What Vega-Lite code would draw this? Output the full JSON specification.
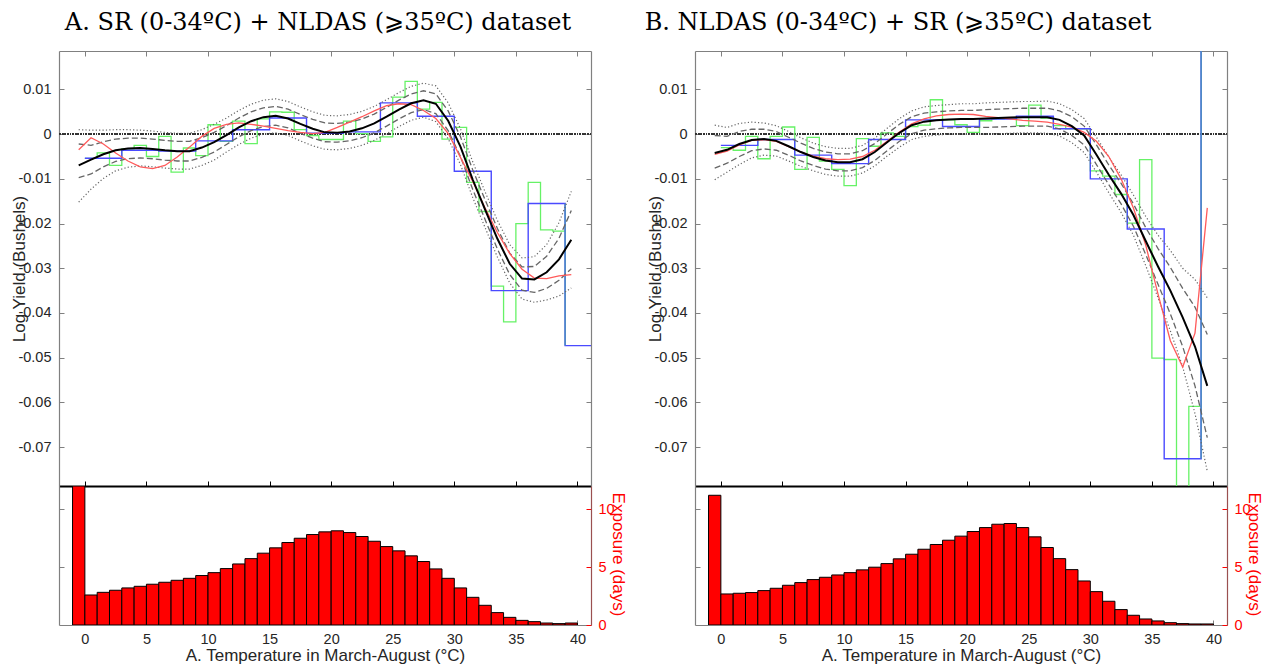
{
"$schema": "https://vega.github.io/schema/vega-lite/v6.json",
"background": "white",
"padding": {"left": 10, "top": 10, "right": 5, "bottom": 2},
"config": {
  "view": {"stroke": null},
  "font": "Liberation Sans",
  "locale": {"number": {"decimal": ".", "thousands": ",", "grouping": [3], "currency": ["$", ""], "minus": "-"}},
  "axis": {"grid": false, "labelFontSize": 14.5, "labelColor": "#262626", "domainColor": "#808080", "tickColor": "#808080", "titleFontWeight": "normal", "titleColor": "#262626", "labelFont": "Liberation Sans", "titleFont": "Liberation Sans"},
  "title": {"font": "DejaVu Serif", "fontSize": 24, "fontWeight": "normal", "anchor": "middle", "offset": 16, "color": "black"}
},
"datasets": {
  "cA": [
    {"x":-0.5,"b":-0.0070,"r":-0.0035,"lo1":-0.0097,"hi1":-0.0022,"lo2":-0.0152,"hi2":0.0010},
    {"x":0.5,"b":-0.0057,"r":-0.0008,"lo1":-0.0089,"hi1":-0.0025,"lo2":-0.0123,"hi2":0.0009},
    {"x":1.5,"b":-0.0045,"r":-0.0022,"lo1":-0.0073,"hi1":-0.0017,"lo2":-0.0099,"hi2":0.0009},
    {"x":2.5,"b":-0.0036,"r":-0.0042,"lo1":-0.0061,"hi1":-0.0011,"lo2":-0.0082,"hi2":0.0010},
    {"x":3.5,"b":-0.0032,"r":-0.0060,"lo1":-0.0055,"hi1":-0.0009,"lo2":-0.0074,"hi2":0.0010},
    {"x":4.5,"b":-0.0031,"r":-0.0073,"lo1":-0.0053,"hi1":-0.0009,"lo2":-0.0071,"hi2":0.0009},
    {"x":5.5,"b":-0.0033,"r":-0.0077,"lo1":-0.0055,"hi1":-0.0011,"lo2":-0.0073,"hi2":0.0007},
    {"x":6.5,"b":-0.0036,"r":-0.0070,"lo1":-0.0058,"hi1":-0.0014,"lo2":-0.0076,"hi2":0.0004},
    {"x":7.5,"b":-0.0038,"r":-0.0051,"lo1":-0.0060,"hi1":-0.0016,"lo2":-0.0078,"hi2":0.0002},
    {"x":8.5,"b":-0.0038,"r":-0.0029,"lo1":-0.0060,"hi1":-0.0016,"lo2":-0.0078,"hi2":0.0002},
    {"x":9.5,"b":-0.0030,"r":-0.0005,"lo1":-0.0052,"hi1":-0.0008,"lo2":-0.0070,"hi2":0.0010},
    {"x":10.5,"b":-0.0018,"r":0.0013,"lo1":-0.0040,"hi1":0.0004,"lo2":-0.0058,"hi2":0.0022},
    {"x":11.5,"b":-0.0002,"r":0.0022,"lo1":-0.0023,"hi1":0.0019,"lo2":-0.0040,"hi2":0.0036},
    {"x":12.5,"b":0.0015,"r":0.0025,"lo1":-0.0006,"hi1":0.0036,"lo2":-0.0023,"hi2":0.0053},
    {"x":13.5,"b":0.0029,"r":0.0022,"lo1":0.0008,"hi1":0.0050,"lo2":-0.0009,"hi2":0.0067},
    {"x":14.5,"b":0.0038,"r":0.0018,"lo1":0.0017,"hi1":0.0059,"lo2":0.0000,"hi2":0.0076},
    {"x":15.5,"b":0.0041,"r":0.0013,"lo1":0.0020,"hi1":0.0062,"lo2":0.0003,"hi2":0.0079},
    {"x":16.5,"b":0.0035,"r":0.0008,"lo1":0.0014,"hi1":0.0056,"lo2":-0.0003,"hi2":0.0073},
    {"x":17.5,"b":0.0023,"r":0.0004,"lo1":0.0002,"hi1":0.0044,"lo2":-0.0015,"hi2":0.0061},
    {"x":18.5,"b":0.0012,"r":0.0001,"lo1":-0.0009,"hi1":0.0033,"lo2":-0.0026,"hi2":0.0050},
    {"x":19.5,"b":0.0004,"r":0.0004,"lo1":-0.0017,"hi1":0.0025,"lo2":-0.0034,"hi2":0.0042},
    {"x":20.5,"b":0.0003,"r":0.0015,"lo1":-0.0018,"hi1":0.0024,"lo2":-0.0035,"hi2":0.0041},
    {"x":21.5,"b":0.0006,"r":0.0027,"lo1":-0.0015,"hi1":0.0027,"lo2":-0.0032,"hi2":0.0044},
    {"x":22.5,"b":0.0013,"r":0.0039,"lo1":-0.0008,"hi1":0.0034,"lo2":-0.0025,"hi2":0.0051},
    {"x":23.5,"b":0.0024,"r":0.0052,"lo1":0.0003,"hi1":0.0045,"lo2":-0.0014,"hi2":0.0062},
    {"x":24.5,"b":0.0039,"r":0.0064,"lo1":0.0018,"hi1":0.0060,"lo2":0.0001,"hi2":0.0077},
    {"x":25.5,"b":0.0055,"r":0.0068,"lo1":0.0034,"hi1":0.0076,"lo2":0.0017,"hi2":0.0093},
    {"x":26.5,"b":0.0069,"r":0.0066,"lo1":0.0048,"hi1":0.0090,"lo2":0.0031,"hi2":0.0107},
    {"x":27.5,"b":0.0076,"r":0.0053,"lo1":0.0055,"hi1":0.0097,"lo2":0.0038,"hi2":0.0114},
    {"x":28.5,"b":0.0068,"r":0.0035,"lo1":0.0046,"hi1":0.0090,"lo2":0.0028,"hi2":0.0108},
    {"x":29.5,"b":0.0030,"r":0.0002,"lo1":0.0008,"hi1":0.0052,"lo2":-0.0010,"hi2":0.0070},
    {"x":30.5,"b":-0.0028,"r":-0.0052,"lo1":-0.0050,"hi1":-0.0006,"lo2":-0.0068,"hi2":0.0012},
    {"x":31.5,"b":-0.0102,"r":-0.0106,"lo1":-0.0124,"hi1":-0.0080,"lo2":-0.0142,"hi2":-0.0062},
    {"x":32.5,"b":-0.0169,"r":-0.0165,"lo1":-0.0191,"hi1":-0.0147,"lo2":-0.0209,"hi2":-0.0129},
    {"x":33.5,"b":-0.0234,"r":-0.0220,"lo1":-0.0257,"hi1":-0.0211,"lo2":-0.0275,"hi2":-0.0193},
    {"x":34.5,"b":-0.0290,"r":-0.0267,"lo1":-0.0314,"hi1":-0.0266,"lo2":-0.0333,"hi2":-0.0247},
    {"x":35.5,"b":-0.0323,"r":-0.0302,"lo1":-0.0349,"hi1":-0.0297,"lo2":-0.0369,"hi2":-0.0277},
    {"x":36.5,"b":-0.0325,"r":-0.0322,"lo1":-0.0354,"hi1":-0.0296,"lo2":-0.0376,"hi2":-0.0274},
    {"x":37.5,"b":-0.0309,"r":-0.0323,"lo1":-0.0345,"hi1":-0.0273,"lo2":-0.0371,"hi2":-0.0247},
    {"x":38.5,"b":-0.0280,"r":-0.0317,"lo1":-0.0327,"hi1":-0.0233,"lo2":-0.0362,"hi2":-0.0198},
    {"x":39.5,"b":-0.0236,"r":-0.0314,"lo1":-0.0301,"hi1":-0.0171,"lo2":-0.0344,"hi2":-0.0128}
  ],
  "cB": [
    {"x":-0.5,"b":-0.0042,"r":-0.0045,"lo1":-0.0076,"hi1":-0.0003,"lo2":-0.0102,"hi2":0.0020},
    {"x":0.5,"b":-0.0035,"r":-0.0038,"lo1":-0.0065,"hi1":-0.0005,"lo2":-0.0085,"hi2":0.0015},
    {"x":1.5,"b":-0.0022,"r":-0.0024,"lo1":-0.0050,"hi1":0.0006,"lo2":-0.0068,"hi2":0.0024},
    {"x":2.5,"b":-0.0013,"r":-0.0014,"lo1":-0.0037,"hi1":0.0011,"lo2":-0.0053,"hi2":0.0027},
    {"x":3.5,"b":-0.0011,"r":-0.0012,"lo1":-0.0033,"hi1":0.0011,"lo2":-0.0047,"hi2":0.0025},
    {"x":4.5,"b":-0.0015,"r":-0.0016,"lo1":-0.0036,"hi1":0.0006,"lo2":-0.0049,"hi2":0.0019},
    {"x":5.5,"b":-0.0027,"r":-0.0028,"lo1":-0.0047,"hi1":-0.0007,"lo2":-0.0060,"hi2":0.0006},
    {"x":6.5,"b":-0.0040,"r":-0.0040,"lo1":-0.0060,"hi1":-0.0020,"lo2":-0.0072,"hi2":-0.0008},
    {"x":7.5,"b":-0.0051,"r":-0.0049,"lo1":-0.0070,"hi1":-0.0032,"lo2":-0.0082,"hi2":-0.0020},
    {"x":8.5,"b":-0.0059,"r":-0.0055,"lo1":-0.0078,"hi1":-0.0040,"lo2":-0.0090,"hi2":-0.0028},
    {"x":9.5,"b":-0.0063,"r":-0.0057,"lo1":-0.0082,"hi1":-0.0044,"lo2":-0.0094,"hi2":-0.0032},
    {"x":10.5,"b":-0.0063,"r":-0.0056,"lo1":-0.0082,"hi1":-0.0044,"lo2":-0.0094,"hi2":-0.0032},
    {"x":11.5,"b":-0.0056,"r":-0.0050,"lo1":-0.0075,"hi1":-0.0037,"lo2":-0.0087,"hi2":-0.0025},
    {"x":12.5,"b":-0.0040,"r":-0.0036,"lo1":-0.0059,"hi1":-0.0021,"lo2":-0.0071,"hi2":-0.0009},
    {"x":13.5,"b":-0.0018,"r":-0.0016,"lo1":-0.0037,"hi1":0.0001,"lo2":-0.0049,"hi2":0.0013},
    {"x":14.5,"b":0.0003,"r":0.0005,"lo1":-0.0016,"hi1":0.0022,"lo2":-0.0029,"hi2":0.0035},
    {"x":15.5,"b":0.0020,"r":0.0023,"lo1":0.0001,"hi1":0.0039,"lo2":-0.0012,"hi2":0.0052},
    {"x":16.5,"b":0.0028,"r":0.0034,"lo1":0.0009,"hi1":0.0047,"lo2":-0.0005,"hi2":0.0061},
    {"x":17.5,"b":0.0031,"r":0.0041,"lo1":0.0012,"hi1":0.0050,"lo2":-0.0002,"hi2":0.0064},
    {"x":18.5,"b":0.0033,"r":0.0044,"lo1":0.0014,"hi1":0.0052,"lo2":0.0000,"hi2":0.0066},
    {"x":19.5,"b":0.0034,"r":0.0045,"lo1":0.0015,"hi1":0.0053,"lo2":0.0000,"hi2":0.0068},
    {"x":20.5,"b":0.0034,"r":0.0044,"lo1":0.0015,"hi1":0.0053,"lo2":0.0000,"hi2":0.0068},
    {"x":21.5,"b":0.0035,"r":0.0040,"lo1":0.0015,"hi1":0.0055,"lo2":0.0000,"hi2":0.0070},
    {"x":22.5,"b":0.0036,"r":0.0037,"lo1":0.0016,"hi1":0.0056,"lo2":0.0001,"hi2":0.0071},
    {"x":23.5,"b":0.0037,"r":0.0034,"lo1":0.0017,"hi1":0.0057,"lo2":0.0002,"hi2":0.0072},
    {"x":24.5,"b":0.0038,"r":0.0031,"lo1":0.0018,"hi1":0.0058,"lo2":0.0003,"hi2":0.0073},
    {"x":25.5,"b":0.0038,"r":0.0029,"lo1":0.0018,"hi1":0.0058,"lo2":0.0003,"hi2":0.0073},
    {"x":26.5,"b":0.0038,"r":0.0027,"lo1":0.0018,"hi1":0.0058,"lo2":0.0002,"hi2":0.0074},
    {"x":27.5,"b":0.0032,"r":0.0022,"lo1":0.0012,"hi1":0.0052,"lo2":-0.0004,"hi2":0.0068},
    {"x":28.5,"b":0.0018,"r":0.0016,"lo1":-0.0003,"hi1":0.0039,"lo2":-0.0019,"hi2":0.0055},
    {"x":29.5,"b":-0.0003,"r":0.0004,"lo1":-0.0024,"hi1":0.0018,"lo2":-0.0041,"hi2":0.0035},
    {"x":30.5,"b":-0.0046,"r":-0.0016,"lo1":-0.0068,"hi1":-0.0024,"lo2":-0.0085,"hi2":-0.0007},
    {"x":31.5,"b":-0.0091,"r":-0.0050,"lo1":-0.0113,"hi1":-0.0069,"lo2":-0.0131,"hi2":-0.0051},
    {"x":32.5,"b":-0.0133,"r":-0.0100,"lo1":-0.0156,"hi1":-0.0110,"lo2":-0.0175,"hi2":-0.0091},
    {"x":33.5,"b":-0.0181,"r":-0.0165,"lo1":-0.0206,"hi1":-0.0156,"lo2":-0.0226,"hi2":-0.0136},
    {"x":34.5,"b":-0.0239,"r":-0.0248,"lo1":-0.0269,"hi1":-0.0209,"lo2":-0.0294,"hi2":-0.0184},
    {"x":35.5,"b":-0.0296,"r":-0.0358,"lo1":-0.0336,"hi1":-0.0256,"lo2":-0.0366,"hi2":-0.0226},
    {"x":36.5,"b":-0.0350,"r":-0.0462,"lo1":-0.0402,"hi1":-0.0298,"lo2":-0.0440,"hi2":-0.0260},
    {"x":37.5,"b":-0.0410,"r":-0.0521,"lo1":-0.0475,"hi1":-0.0345,"lo2":-0.0520,"hi2":-0.0300},
    {"x":38.5,"b":-0.0475,"r":-0.0445,"lo1":-0.0563,"hi1":-0.0387,"lo2":-0.0625,"hi2":-0.0325},
    {"x":39.5,"b":-0.0563,"r":-0.0165,"lo1":-0.0679,"hi1":-0.0448,"lo2":-0.0754,"hi2":-0.0366}
  ],
  "bA": [
    {"x":0,"v":-0.0054},{"x":3,"v":-0.0036},{"x":6,"v":-0.0038},{"x":9,"v":-0.0015},{"x":12,"v":0.0010},
    {"x":15,"v":0.0036},{"x":18,"v":0.0002},{"x":21,"v":0.0005},{"x":24,"v":0.0070},{"x":27,"v":0.0040},
    {"x":30,"v":-0.0083},{"x":33,"v":-0.0350},{"x":36,"v":-0.0155},{"x":39,"v":-0.0473},{"x":41.1,"v":-0.0473}
  ],
  "bB": [
    {"x":0,"v":-0.0025},{"x":3,"v":-0.0012},{"x":6,"v":-0.0047},{"x":9,"v":-0.0066},{"x":12,"v":-0.0012},
    {"x":15,"v":0.0032},{"x":18,"v":0.0017},{"x":21,"v":0.0034},{"x":24,"v":0.0040},{"x":27,"v":0.0012},
    {"x":30,"v":-0.0100},{"x":33,"v":-0.0212},{"x":36,"v":-0.0726},{"x":39,"v":0.05},{"x":41.1,"v":0.05}
  ],
  "gA": [
    {"x":0,"v":-0.0054},{"x":1,"v":-0.0042},{"x":2,"v":-0.0070},{"x":3,"v":-0.0033},{"x":4,"v":-0.0025},
    {"x":5,"v":-0.0050},{"x":6,"v":-0.0005},{"x":7,"v":-0.0085},{"x":8,"v":-0.0031},{"x":9,"v":-0.0048},
    {"x":10,"v":0.0021},{"x":11,"v":-0.0016},{"x":12,"v":0.0029},{"x":13,"v":-0.0021},{"x":14,"v":0.0034},
    {"x":15,"v":0.0050},{"x":16,"v":0.0049},{"x":17,"v":0.0010},{"x":18,"v":-0.0003},{"x":19,"v":-0.0012},
    {"x":20,"v":-0.0012},{"x":21,"v":0.0029},{"x":22,"v":0.0001},{"x":23,"v":-0.0016},{"x":24,"v":-0.0006},
    {"x":25,"v":0.0083},{"x":26,"v":0.0118},{"x":27,"v":0.0056},{"x":28,"v":0.0071},{"x":29,"v":-0.0011},
    {"x":30,"v":0.0015},{"x":31,"v":-0.0108},{"x":32,"v":-0.0173},{"x":33,"v":-0.0340},{"x":34,"v":-0.0420},
    {"x":35,"v":-0.0200},{"x":36,"v":-0.0108},{"x":37,"v":-0.0214},{"x":38,"v":-0.0217},{"x":39,"v":-0.0217}
  ],
  "gB": [
    {"x":0,"v":-0.0030},{"x":1,"v":-0.0036},{"x":2,"v":-0.0005},{"x":3,"v":-0.0055},{"x":4,"v":-0.0005},
    {"x":5,"v":0.0016},{"x":6,"v":-0.0079},{"x":7,"v":-0.0007},{"x":8,"v":-0.0060},{"x":9,"v":-0.0079},
    {"x":10,"v":-0.0115},{"x":11,"v":-0.0010},{"x":12,"v":-0.0027},{"x":13,"v":0.0003},{"x":14,"v":-0.0005},
    {"x":15,"v":0.0017},{"x":16,"v":0.0020},{"x":17,"v":0.0077},{"x":18,"v":0.0032},{"x":19,"v":0.0021},
    {"x":20,"v":0.0004},{"x":21,"v":0.0030},{"x":22,"v":0.0034},{"x":23,"v":0.0036},{"x":24,"v":0.0019},
    {"x":25,"v":0.0065},{"x":26,"v":0.0036},{"x":27,"v":0.0019},{"x":28,"v":0.0012},{"x":29,"v":0.0012},
    {"x":30,"v":-0.0082},{"x":31,"v":-0.0094},{"x":32,"v":-0.0135},{"x":33,"v":-0.0199},{"x":34,"v":-0.0057},
    {"x":35,"v":-0.0501},{"x":36,"v":-0.0504},{"x":37,"v":-0.0950},{"x":38,"v":-0.0609},{"x":39,"v":-0.0609}
  ],
  "vA": [{"x":39,"y":-0.0155,"y2":-0.0473}],
  "vB": [{"x":39,"y":-0.0726,"y2":0.03}],
  "hA": [
    {"x0":-1,"x1":0,"d":12},{"x0":0,"x1":1,"d":2.59},{"x0":1,"x1":2,"d":2.82},{"x0":2,"x1":3,"d":3.0},{"x0":3,"x1":4,"d":3.2},
    {"x0":4,"x1":5,"d":3.34},{"x0":5,"x1":6,"d":3.52},{"x0":6,"x1":7,"d":3.69},{"x0":7,"x1":8,"d":3.86},{"x0":8,"x1":9,"d":4.03},
    {"x0":9,"x1":10,"d":4.27},{"x0":10,"x1":11,"d":4.52},{"x0":11,"x1":12,"d":4.87},{"x0":12,"x1":13,"d":5.27},{"x0":13,"x1":14,"d":5.73},
    {"x0":14,"x1":15,"d":6.2},{"x0":15,"x1":16,"d":6.66},{"x0":16,"x1":17,"d":7.12},{"x0":17,"x1":18,"d":7.49},{"x0":18,"x1":19,"d":7.81},
    {"x0":19,"x1":20,"d":8.04},{"x0":20,"x1":21,"d":8.13},{"x0":21,"x1":22,"d":7.98},{"x0":22,"x1":23,"d":7.64},{"x0":23,"x1":24,"d":7.23},
    {"x0":24,"x1":25,"d":6.77},{"x0":25,"x1":26,"d":6.4},{"x0":26,"x1":27,"d":5.97},{"x0":27,"x1":28,"d":5.48},{"x0":28,"x1":29,"d":4.84},
    {"x0":29,"x1":30,"d":4.03},{"x0":30,"x1":31,"d":3.2},{"x0":31,"x1":32,"d":2.39},{"x0":32,"x1":33,"d":1.7},{"x0":33,"x1":34,"d":1.07},
    {"x0":34,"x1":35,"d":0.66},{"x0":35,"x1":36,"d":0.4},{"x0":36,"x1":37,"d":0.29},{"x0":37,"x1":38,"d":0.17},{"x0":38,"x1":39,"d":0.12},
    {"x0":39,"x1":40,"d":0.17}
  ],
  "hB": [
    {"x0":-1,"x1":0,"d":11.2},{"x0":0,"x1":1,"d":2.68},{"x0":1,"x1":2,"d":2.74},{"x0":2,"x1":3,"d":2.8},{"x0":3,"x1":4,"d":2.97},
    {"x0":4,"x1":5,"d":3.17},{"x0":5,"x1":6,"d":3.43},{"x0":6,"x1":7,"d":3.66},{"x0":7,"x1":8,"d":3.92},{"x0":8,"x1":9,"d":4.12},
    {"x0":9,"x1":10,"d":4.32},{"x0":10,"x1":11,"d":4.52},{"x0":11,"x1":12,"d":4.76},{"x0":12,"x1":13,"d":4.99},{"x0":13,"x1":14,"d":5.3},
    {"x0":14,"x1":15,"d":5.71},{"x0":15,"x1":16,"d":6.11},{"x0":16,"x1":17,"d":6.54},{"x0":17,"x1":18,"d":6.95},{"x0":18,"x1":19,"d":7.32},
    {"x0":19,"x1":20,"d":7.67},{"x0":20,"x1":21,"d":8.07},{"x0":21,"x1":22,"d":8.41},{"x0":22,"x1":23,"d":8.7},{"x0":23,"x1":24,"d":8.76},
    {"x0":24,"x1":25,"d":8.41},{"x0":25,"x1":26,"d":7.61},{"x0":26,"x1":27,"d":6.69},{"x0":27,"x1":28,"d":5.73},{"x0":28,"x1":29,"d":4.78},
    {"x0":29,"x1":30,"d":3.8},{"x0":30,"x1":31,"d":2.88},{"x0":31,"x1":32,"d":2.05},{"x0":32,"x1":33,"d":1.33},{"x0":33,"x1":34,"d":0.84},
    {"x0":34,"x1":35,"d":0.52},{"x0":35,"x1":36,"d":0.35},{"x0":36,"x1":37,"d":0.2},{"x0":37,"x1":38,"d":0.12},{"x0":38,"x1":39,"d":0.09},
    {"x0":39,"x1":40,"d":0.09}
  ]
},
"spacing": 18,
"hconcat": [
  {
    "title": "A. SR (0-34ºC) + NLDAS (⩾35ºC) dataset",
    "bounds": "flush",
    "spacing": 0,
    "vconcat": [
      {
        "width": 532, "height": 435,
        "resolve": {"axis": {"x": "independent", "y": "independent"}},
        "layer": [
          {"data": {"name": "cA"}, "mark": {"type": "rule", "color": "#333", "strokeDash": [1, 1.6], "strokeWidth": 0.9},
           "encoding": {"y": {"datum": 0, "type": "quantitative", "scale": {"domain": [-0.0787, 0.0186], "nice": false, "zero": false}, "axis": null}}},
          {"data": {"name": "gA"}, "mark": {"type": "line", "interpolate": "step-after", "color": "#66f266", "strokeWidth": 1.3, "clip": true},
           "encoding": {"x": {"field": "x", "type": "quantitative", "scale": {"domain": [-2.1, 41.1], "nice": false, "zero": false}, "axis": null},
                        "y": {"field": "v", "type": "quantitative", "scale": {"domain": [-0.0787, 0.0186], "nice": false, "zero": false}, "axis": null}}},
          {"data": {"name": "bA"}, "mark": {"type": "line", "interpolate": "step-after", "color": "#4a4aff", "strokeWidth": 1.4, "clip": true},
           "encoding": {"x": {"field": "x", "type": "quantitative", "scale": {"domain": [-2.1, 41.1], "nice": false, "zero": false}, "axis": null},
                        "y": {"field": "v", "type": "quantitative", "scale": {"domain": [-0.0787, 0.0186], "nice": false, "zero": false}, "axis": null}}},
          {"data": {"name": "vA"}, "mark": {"type": "rule", "color": "#4f8cc4", "strokeWidth": 1.6, "clip": true},
           "encoding": {"x": {"field": "x", "type": "quantitative", "scale": {"domain": [-2.1, 41.1], "nice": false, "zero": false}, "axis": null},
                        "y": {"field": "y", "type": "quantitative", "scale": {"domain": [-0.0787, 0.0186], "nice": false, "zero": false}, "axis": null},
                        "y2": {"field": "y2"}}},
          {"data": {"name": "cA"}, "mark": {"type": "line", "color": "#666", "strokeDash": [1.2, 2.2], "strokeWidth": 1.2},
           "encoding": {"x": {"field": "x", "type": "quantitative", "scale": {"domain": [-2.1, 41.1], "nice": false, "zero": false}, "axis": null},
                        "y": {"field": "lo2", "type": "quantitative", "scale": {"domain": [-0.0787, 0.0186], "nice": false, "zero": false}, "axis": null}}},
          {"data": {"name": "cA"}, "mark": {"type": "line", "color": "#666", "strokeDash": [1.2, 2.2], "strokeWidth": 1.2},
           "encoding": {"x": {"field": "x", "type": "quantitative", "scale": {"domain": [-2.1, 41.1], "nice": false, "zero": false}, "axis": null},
                        "y": {"field": "hi2", "type": "quantitative", "scale": {"domain": [-0.0787, 0.0186], "nice": false, "zero": false}, "axis": null}}},
          {"data": {"name": "cA"}, "mark": {"type": "line", "color": "#666", "strokeDash": [6, 3], "strokeWidth": 1.3},
           "encoding": {"x": {"field": "x", "type": "quantitative", "scale": {"domain": [-2.1, 41.1], "nice": false, "zero": false}, "axis": null},
                        "y": {"field": "lo1", "type": "quantitative", "scale": {"domain": [-0.0787, 0.0186], "nice": false, "zero": false}, "axis": null}}},
          {"data": {"name": "cA"}, "mark": {"type": "line", "color": "#666", "strokeDash": [6, 3], "strokeWidth": 1.3},
           "encoding": {"x": {"field": "x", "type": "quantitative", "scale": {"domain": [-2.1, 41.1], "nice": false, "zero": false}, "axis": null},
                        "y": {"field": "hi1", "type": "quantitative", "scale": {"domain": [-0.0787, 0.0186], "nice": false, "zero": false}, "axis": null}}},
          {"data": {"name": "cA"}, "mark": {"type": "line", "color": "#ff5a5a", "strokeWidth": 1.3},
           "encoding": {"x": {"field": "x", "type": "quantitative", "scale": {"domain": [-2.1, 41.1], "nice": false, "zero": false},
                              "axis": {"orient": "top", "values": [0,5,10,15,20,25,30,35,40], "labels": false, "title": null, "tickSize": -5, "domainWidth": 1.2}},
                        "y": {"field": "r", "type": "quantitative", "scale": {"domain": [-0.0787, 0.0186], "nice": false, "zero": false},
                              "axis": {"orient": "right", "values": [-0.07,-0.06,-0.05,-0.04,-0.03,-0.02,-0.01,0,0.01], "labels": false, "title": null, "tickSize": -5, "domainWidth": 1.2}}}},
          {"data": {"name": "cA"}, "mark": {"type": "line", "color": "#000", "strokeWidth": 2},
           "encoding": {"x": {"field": "x", "type": "quantitative", "scale": {"domain": [-2.1, 41.1], "nice": false, "zero": false},
                              "axis": {"orient": "bottom", "values": [0,5,10,15,20,25,30,35,40], "labels": false, "title": null, "tickSize": -5, "domainColor": "#000", "tickColor": "#000", "domainWidth": 2}},
                        "y": {"field": "b", "type": "quantitative", "scale": {"domain": [-0.0787, 0.0186], "nice": false, "zero": false},
                              "axis": {"orient": "left", "values": [-0.07,-0.06,-0.05,-0.04,-0.03,-0.02,-0.01,0,0.01], "format": ".2~f", "tickSize": -5, "labelPadding": 13, "domainWidth": 1.2,
                                       "title": "Log Yield (Bushels)", "titleFontSize": 17, "titleX": -31, "titleY": 217.5}}}}
        ]
      },
      {
        "width": 532, "height": 139,
        "data": {"name": "hA"},
        "resolve": {"axis": {"y": "independent"}},
        "layer": [
          {"mark": {"type": "rect", "fill": "#ff0000", "stroke": "#000", "strokeWidth": 1, "clip": true},
           "encoding": {"x": {"field": "x0", "type": "quantitative", "scale": {"domain": [-2.1, 41.1], "nice": false, "zero": false},
                              "axis": {"orient": "bottom", "values": [0,5,10,15,20,25,30,35,40], "format": "d", "tickSize": -5, "labelPadding": 12, "domainWidth": 1.2,
                                       "title": "A. Temperature in March-August (°C)", "titleFontSize": 17, "titlePadding": 2}},
                        "x2": {"field": "x1"},
                        "y": {"field": "d", "type": "quantitative", "scale": {"domain": [0, 12], "nice": false, "zero": true},
                              "axis": {"orient": "left", "values": [5, 10], "labels": false, "title": null, "tickSize": -5, "domainWidth": 1.2}},
                        "y2": {"datum": 0}}},
          {"mark": {"type": "rule", "opacity": 0},
           "encoding": {"y": {"field": "d", "type": "quantitative", "scale": {"domain": [0, 12], "nice": false, "zero": true},
                              "axis": {"orient": "right", "values": [0, 5, 10], "labelColor": "#ff0000", "tickColor": "#ff0000", "domainColor": "#9a5050", "domainWidth": 1.2, "tickSize": -5, "labelPadding": 12,
                                       "title": "Exposure (days)", "titleColor": "#ff0000", "titleFontSize": 17, "titleX": 17, "titleY": 68}}}}
        ]
      }
    ]
  },
  {
    "title": {"text": "B. NLDAS (0-34ºC) + SR (⩾35ºC) dataset", "dx": -56},
    "bounds": "flush",
    "spacing": 0,
    "vconcat": [
      {
        "width": 532, "height": 435,
        "resolve": {"axis": {"x": "independent", "y": "independent"}},
        "layer": [
          {"data": {"name": "cB"}, "mark": {"type": "rule", "color": "#333", "strokeDash": [1, 1.6], "strokeWidth": 0.9},
           "encoding": {"y": {"datum": 0, "type": "quantitative", "scale": {"domain": [-0.0787, 0.0186], "nice": false, "zero": false}, "axis": null}}},
          {"data": {"name": "gB"}, "mark": {"type": "line", "interpolate": "step-after", "color": "#66f266", "strokeWidth": 1.3, "clip": true},
           "encoding": {"x": {"field": "x", "type": "quantitative", "scale": {"domain": [-2.1, 41.1], "nice": false, "zero": false}, "axis": null},
                        "y": {"field": "v", "type": "quantitative", "scale": {"domain": [-0.0787, 0.0186], "nice": false, "zero": false}, "axis": null}}},
          {"data": {"name": "bB"}, "mark": {"type": "line", "interpolate": "step-after", "color": "#4a4aff", "strokeWidth": 1.4, "clip": true},
           "encoding": {"x": {"field": "x", "type": "quantitative", "scale": {"domain": [-2.1, 41.1], "nice": false, "zero": false}, "axis": null},
                        "y": {"field": "v", "type": "quantitative", "scale": {"domain": [-0.0787, 0.0186], "nice": false, "zero": false}, "axis": null}}},
          {"data": {"name": "vB"}, "mark": {"type": "rule", "color": "#4f8cc4", "strokeWidth": 1.6, "clip": true},
           "encoding": {"x": {"field": "x", "type": "quantitative", "scale": {"domain": [-2.1, 41.1], "nice": false, "zero": false}, "axis": null},
                        "y": {"field": "y", "type": "quantitative", "scale": {"domain": [-0.0787, 0.0186], "nice": false, "zero": false}, "axis": null},
                        "y2": {"field": "y2"}}},
          {"data": {"name": "cB"}, "mark": {"type": "line", "color": "#666", "strokeDash": [1.2, 2.2], "strokeWidth": 1.2},
           "encoding": {"x": {"field": "x", "type": "quantitative", "scale": {"domain": [-2.1, 41.1], "nice": false, "zero": false}, "axis": null},
                        "y": {"field": "lo2", "type": "quantitative", "scale": {"domain": [-0.0787, 0.0186], "nice": false, "zero": false}, "axis": null}}},
          {"data": {"name": "cB"}, "mark": {"type": "line", "color": "#666", "strokeDash": [1.2, 2.2], "strokeWidth": 1.2},
           "encoding": {"x": {"field": "x", "type": "quantitative", "scale": {"domain": [-2.1, 41.1], "nice": false, "zero": false}, "axis": null},
                        "y": {"field": "hi2", "type": "quantitative", "scale": {"domain": [-0.0787, 0.0186], "nice": false, "zero": false}, "axis": null}}},
          {"data": {"name": "cB"}, "mark": {"type": "line", "color": "#666", "strokeDash": [6, 3], "strokeWidth": 1.3},
           "encoding": {"x": {"field": "x", "type": "quantitative", "scale": {"domain": [-2.1, 41.1], "nice": false, "zero": false}, "axis": null},
                        "y": {"field": "lo1", "type": "quantitative", "scale": {"domain": [-0.0787, 0.0186], "nice": false, "zero": false}, "axis": null}}},
          {"data": {"name": "cB"}, "mark": {"type": "line", "color": "#666", "strokeDash": [6, 3], "strokeWidth": 1.3},
           "encoding": {"x": {"field": "x", "type": "quantitative", "scale": {"domain": [-2.1, 41.1], "nice": false, "zero": false}, "axis": null},
                        "y": {"field": "hi1", "type": "quantitative", "scale": {"domain": [-0.0787, 0.0186], "nice": false, "zero": false}, "axis": null}}},
          {"data": {"name": "cB"}, "mark": {"type": "line", "color": "#ff5a5a", "strokeWidth": 1.3},
           "encoding": {"x": {"field": "x", "type": "quantitative", "scale": {"domain": [-2.1, 41.1], "nice": false, "zero": false},
                              "axis": {"orient": "top", "values": [0,5,10,15,20,25,30,35,40], "labels": false, "title": null, "tickSize": -5, "domainWidth": 1.2}},
                        "y": {"field": "r", "type": "quantitative", "scale": {"domain": [-0.0787, 0.0186], "nice": false, "zero": false},
                              "axis": {"orient": "right", "values": [-0.07,-0.06,-0.05,-0.04,-0.03,-0.02,-0.01,0,0.01], "labels": false, "title": null, "tickSize": -5, "domainWidth": 1.2}}}},
          {"data": {"name": "cB"}, "mark": {"type": "line", "color": "#000", "strokeWidth": 2},
           "encoding": {"x": {"field": "x", "type": "quantitative", "scale": {"domain": [-2.1, 41.1], "nice": false, "zero": false},
                              "axis": {"orient": "bottom", "values": [0,5,10,15,20,25,30,35,40], "labels": false, "title": null, "tickSize": -5, "domainColor": "#000", "tickColor": "#000", "domainWidth": 2}},
                        "y": {"field": "b", "type": "quantitative", "scale": {"domain": [-0.0787, 0.0186], "nice": false, "zero": false},
                              "axis": {"orient": "left", "values": [-0.07,-0.06,-0.05,-0.04,-0.03,-0.02,-0.01,0,0.01], "format": ".2~f", "tickSize": -5, "labelPadding": 13, "domainWidth": 1.2,
                                       "title": "Log Yield (Bushels)", "titleFontSize": 17, "titleX": -31, "titleY": 217.5}}}}
        ]
      },
      {
        "width": 532, "height": 139,
        "data": {"name": "hB"},
        "resolve": {"axis": {"y": "independent"}},
        "layer": [
          {"mark": {"type": "rect", "fill": "#ff0000", "stroke": "#000", "strokeWidth": 1, "clip": true},
           "encoding": {"x": {"field": "x0", "type": "quantitative", "scale": {"domain": [-2.1, 41.1], "nice": false, "zero": false},
                              "axis": {"orient": "bottom", "values": [0,5,10,15,20,25,30,35,40], "format": "d", "tickSize": -5, "labelPadding": 12, "domainWidth": 1.2,
                                       "title": "A. Temperature in March-August (°C)", "titleFontSize": 17, "titlePadding": 2}},
                        "x2": {"field": "x1"},
                        "y": {"field": "d", "type": "quantitative", "scale": {"domain": [0, 12], "nice": false, "zero": true},
                              "axis": {"orient": "left", "values": [5, 10], "labels": false, "title": null, "tickSize": -5, "domainWidth": 1.2}},
                        "y2": {"datum": 0}}},
          {"mark": {"type": "rule", "opacity": 0},
           "encoding": {"y": {"field": "d", "type": "quantitative", "scale": {"domain": [0, 12], "nice": false, "zero": true},
                              "axis": {"orient": "right", "values": [0, 5, 10], "labelColor": "#ff0000", "tickColor": "#ff0000", "domainColor": "#9a5050", "domainWidth": 1.2, "tickSize": -5, "labelPadding": 12,
                                       "title": "Exposure (days)", "titleColor": "#ff0000", "titleFontSize": 17, "titleX": 17, "titleY": 68}}}}
        ]
      }
    ]
  }
]
}
